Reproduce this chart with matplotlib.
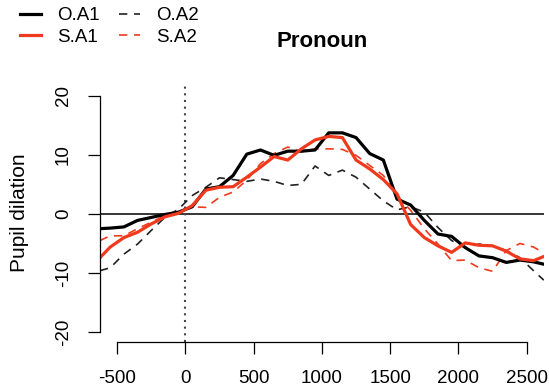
import matplotlib
matplotlib.use("Agg")
import matplotlib.pyplot as plt
from matplotlib.lines import Line2D

plt.rcParams['font.family'] = ['Liberation Sans', 'DejaVu Sans']

# time (ms) of each sample; ends are the clipped plot edges
times = [-625, -550, -450, -350, -250, -150, -50, 50, 150, 250, 350, 450,
         550, 650, 750, 850, 950, 1050, 1150, 1250, 1350, 1450, 1550, 1650,
         1750, 1850, 1950, 2050, 2150, 2250, 2350, 2450, 2550, 2625]

# pupil dilation per condition
oa1 = [-2.5, -2.4, -2.2, -1.1, -0.6, -0.1, 0.3, 1.2, 4.2, 4.6, 6.5, 10.1,
       10.8, 9.9, 10.6, 10.6, 10.8, 13.7, 13.7, 12.9, 10.2, 9.1, 2.5, 1.5,
       -1.1, -3.4, -3.8, -5.7, -7.1, -7.4, -8.2, -7.8, -8.1, -8.5]
sa1 = [-7.4, -5.6, -4.0, -3.1, -1.7, -0.5, 0.1, 1.4, 4.0, 4.5, 4.6, 6.2,
       7.9, 9.7, 9.1, 11.0, 12.5, 13.1, 12.9, 9.1, 7.6, 5.8, 3.4, -1.8,
       -4.0, -5.4, -6.5, -4.9, -5.3, -5.4, -6.3, -7.6, -7.9, -7.2]
oa2 = [-9.6, -9.1, -6.8, -5.1, -2.8, -0.6, 0.8, 3.1, 4.5, 6.1, 5.8, 5.5,
       5.9, 5.5, 4.8, 5.0, 8.1, 6.5, 7.4, 6.2, 4.2, 2.2, 0.7, 1.2,
       0.3, -2.3, -4.5, -5.7, -5.1, -5.4, -6.2, -7.4, -9.6, -11.2]
sa2 = [-4.5, -3.7, -3.7, -2.5, -1.4, -0.3, 0.5, 1.2, 1.1, 2.8, 3.7, 5.7,
       8.5, 10.2, 11.3, 10.5, 11.0, 11.0, 10.9, 9.9, 8.2, 6.5, 3.1, 0.6,
       -2.5, -5.1, -7.9, -7.8, -9.1, -9.7, -6.2, -5.0, -5.6, -6.6]

xticks = [-500, 0, 500, 1000, 1500, 2000, 2500]
yticks = [-20, -10, 0, 10, 20]

red = '#F03A1E'
dash = (0, (5, 4))

W, H = 549, 392
fig = plt.figure(figsize=(W / 100, H / 100), dpi=100)
ax = fig.add_axes([100 / W, (H - 341.7) / H, 443.8 / W, 255.6 / H])

ax.axhline(0, color='black', lw=1.1)
ax.axvline(0, color='#444444', lw=1.5, ls=(0, (1, 2.2)))

ax.plot(times, oa2, color='#222222', lw=1.2, ls=dash)
ax.plot(times, sa2, color=red, lw=1.2, ls=dash)
ax.plot(times, oa1, color='black', lw=2.3)
ax.plot(times, sa1, color=red, lw=2.3)

ax.set_xlim(-625, 2625)
ax.set_ylim(-21.6, 21.6)

for s in ['top', 'right']:
    ax.spines[s].set_visible(False)
ax.spines['left'].set_bounds(-20, 20)
ax.spines['bottom'].set_bounds(-500, 2500)
ax.spines['left'].set_linewidth(0.9)
ax.spines['bottom'].set_linewidth(0.9)

ax.set_xticks(xticks)
ax.set_yticks(yticks)
ax.set_xticklabels([str(v) for v in xticks])
ax.set_yticklabels([str(v) for v in yticks], rotation=90, va='center')
ax.tick_params(length=8.6, width=0.9, pad=11.5, labelsize=13.5)

ax.set_title('Pronoun', fontsize=16, fontweight='bold', pad=28)
fig.text(19.5 / W, 1 - 213 / H, 'Pupil dilation', rotation=90,
         ha='center', va='center', fontsize=15)

handles = [Line2D([], [], color='black', lw=2.3),
           Line2D([], [], color=red, lw=2.3),
           Line2D([], [], color='#222222', lw=1.2, ls=dash),
           Line2D([], [], color=red, lw=1.2, ls=dash)]
labels = ['O.A1', 'S.A1', 'O.A2', 'S.A2']
fig.legend(handles, labels, loc='upper left', bbox_to_anchor=(20 / W, 1 - 7 / H),
           ncol=2, frameon=False, fontsize=13.5, handlelength=1.1,
           handletextpad=0.9, columnspacing=1.0, labelspacing=0.25,
           borderpad=0, borderaxespad=0)

fig.savefig('out.png', dpi=100)
